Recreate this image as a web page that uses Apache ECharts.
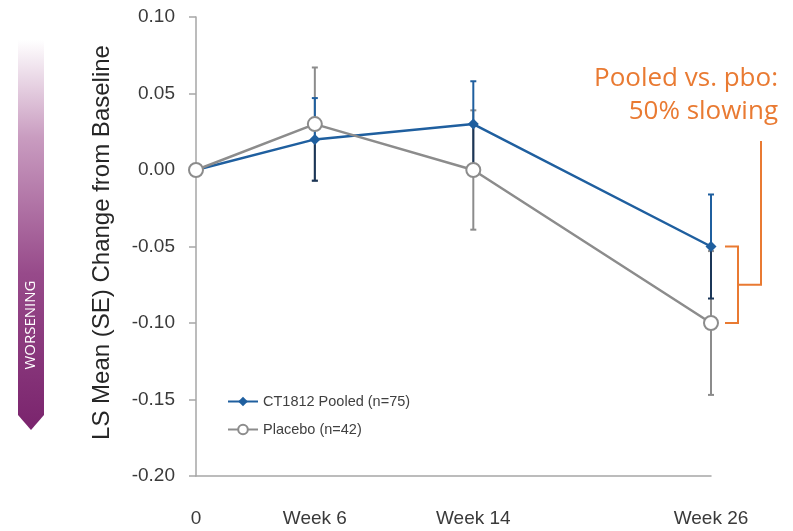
<!DOCTYPE html>
<html>
<head>
<meta charset="utf-8">
<script src="https://cdn.jsdelivr.net/npm/echarts@6/dist/echarts.min.js"></script>
<style>
html,body{margin:0;padding:0;background:#fff;}
#chart{width:793px;height:531px;}
</style>
</head>
<body>
<div id="chart"></div>
<script>
// ---- data ----
const weeks = [0, 6, 14, 26];
const xTickLabels = ['0', 'Week 6', 'Week 14', 'Week 26'];
const pooledName = 'CT1812 Pooled (n=75)';
const pooledMean = [0.00, 0.02, 0.03, -0.05];
const pooledSE = [0, 0.027, 0.028, 0.034];
const placeboName = 'Placebo (n=42)';
const placeboMean = [0.00, 0.03, 0.00, -0.10];
const placeboSE = [0, 0.037, 0.039, 0.047];
const yMin = -0.20, yMax = 0.10, yStep = 0.05;
const yTitle = 'LS Mean (SE) Change from Baseline';
const annotationLines = ['Pooled vs. pbo:', '50% slowing'];
const arrowLabel = 'WORSENING';

const BLUE = '#1f5f9f';
const BLUE_DARK = '#1b3658';
const GRAY = '#8c8c8c';
const ORANGE = '#e97a32';
const FONT = '"Liberation Sans", Arial, sans-serif';

function errData(mean, se) {
  return weeks.map((w, i) => [w, mean[i] - se[i], mean[i] + se[i], mean[i]]).filter((d, i) => se[i] > 0);
}
function errRender(upperColor, lowerColor) {
  return function (params, api) {
    const x = api.value(0);
    const lo = api.coord([x, api.value(1)]);
    const hi = api.coord([x, api.value(2)]);
    const mid = api.coord([x, api.value(3)]);
    const cap = 3;
    const st = (c) => ({ stroke: c, lineWidth: 2 });
    return {
      type: 'group',
      children: [
        { type: 'line', shape: { x1: hi[0], y1: hi[1], x2: mid[0], y2: mid[1] }, style: st(upperColor) },
        { type: 'line', shape: { x1: mid[0], y1: mid[1], x2: lo[0], y2: lo[1] }, style: st(lowerColor) },
        { type: 'line', shape: { x1: hi[0] - cap, y1: hi[1], x2: hi[0] + cap, y2: hi[1] }, style: st(upperColor) },
        { type: 'line', shape: { x1: lo[0] - cap, y1: lo[1], x2: lo[0] + cap, y2: lo[1] }, style: st(lowerColor) }
      ]
    };
  };
}

const chart = echarts.init(document.getElementById('chart'), null, { renderer: 'canvas' });

const option = {
  animation: false,
  backgroundColor: '#fff',
  grid: { left: 196, right: 82, top: 17, bottom: 55, containLabel: false },
  xAxis: {
    type: 'value',
    min: 0,
    max: 26,
    axisLine: { show: true, onZero: false, lineStyle: { color: '#a6a6a6', width: 1.5 } },
    axisTick: { show: false },
    splitLine: { show: false },
    axisLabel: {
      customValues: weeks,
      formatter: (v) => xTickLabels[weeks.indexOf(v)],
      margin: 33,
      fontSize: 19,
      color: '#3a3a3a',
      fontFamily: FONT
    }
  },
  yAxis: {
    type: 'value',
    min: yMin,
    max: yMax,
    interval: yStep,
    axisLine: { show: true, lineStyle: { color: '#a6a6a6', width: 1.5 } },
    axisTick: { show: true, inside: false, length: 7, lineStyle: { color: '#a6a6a6', width: 1.5 } },
    splitLine: { show: false },
    axisLabel: {
      formatter: (v) => v.toFixed(2),
      margin: 21,
      fontSize: 19,
      color: '#3a3a3a',
      fontFamily: FONT
    }
  },
  legend: {
    orient: 'vertical',
    left: 222,
    top: 389,
    itemWidth: 30,
    itemHeight: 12,
    itemGap: 13,
    textStyle: { fontSize: 14.5, color: '#404040', fontFamily: FONT },
    data: [pooledName, placeboName]
  },
  series: [
    {
      name: 'placeboErr',
      type: 'custom',
      renderItem: errRender(GRAY, GRAY),
      data: errData(placeboMean, placeboSE),
      z: 1,
      silent: true
    },
    {
      name: 'pooledErr',
      type: 'custom',
      renderItem: errRender(BLUE, BLUE_DARK),
      data: errData(pooledMean, pooledSE),
      z: 2,
      silent: true
    },
    {
      name: pooledName,
      type: 'line',
      data: weeks.map((w, i) => [w, pooledMean[i]]),
      symbol: 'diamond',
      symbolSize: 11,
      lineStyle: { color: BLUE, width: 2.5 },
      itemStyle: { color: BLUE },
      z: 3
    },
    {
      name: placeboName,
      type: 'line',
      data: weeks.map((w, i) => [w, placeboMean[i]]),
      symbol: 'emptyCircle',
      symbolSize: 14,
      lineStyle: { color: GRAY, width: 2.5 },
      itemStyle: { color: GRAY, borderColor: GRAY, borderWidth: 2.2 },
      z: 4
    }
  ]
};
chart.setOption(option);

// ---- annotations built from axis scales ----
const lastW = weeks[weeks.length - 1];
const pTop = chart.convertToPixel({ gridIndex: 0 }, [lastW, pooledMean[pooledMean.length - 1]]);
const pBot = chart.convertToPixel({ gridIndex: 0 }, [lastW, placeboMean[placeboMean.length - 1]]);
const bx0 = pTop[0] + 14, bx1 = pTop[0] + 27, bx2 = pTop[0] + 50;
const bMid = (pTop[1] + pBot[1]) / 2;
const yAxisPx0 = chart.convertToPixel({ gridIndex: 0 }, [0, yMax]);
const yAxisPx1 = chart.convertToPixel({ gridIndex: 0 }, [0, yMin]);

chart.setOption({
  graphic: [
    {
      type: 'polyline',
      shape: { points: [[bx0, pTop[1]], [bx1, pTop[1]], [bx1, pBot[1]], [bx0, pBot[1]]] },
      style: { stroke: ORANGE, lineWidth: 2, fill: null }
    },
    {
      type: 'polyline',
      shape: { points: [[bx1, bMid], [bx2, bMid], [bx2, 141]] },
      style: { stroke: ORANGE, lineWidth: 2, fill: null }
    },
    {
      type: 'text',
      x: 778,
      y: 62,
      style: {
        text: annotationLines.join('\n'),
        align: 'right',
        verticalAlign: 'top',
        fontSize: 26,
        lineHeight: 33,
        fill: ORANGE,
        fontFamily: '"Open Sans", sans-serif'
      }
    },
    {
      type: 'text',
      x: 102,
      y: (yAxisPx0[1] + yAxisPx1[1]) / 2 - 4,
      rotation: Math.PI / 2,
      style: {
        text: yTitle,
        align: 'center',
        verticalAlign: 'middle',
        fontSize: 24,
        fill: '#262626',
        fontFamily: FONT
      }
    },
    {
      type: 'polygon',
      shape: { points: [[18, 40], [44, 40], [44, 415], [31, 430], [18, 415]] },
      style: {
        fill: new echarts.graphic.LinearGradient(0, 0, 0, 1, [
          { offset: 0, color: '#ffffff' },
          { offset: 0.25, color: '#c99cc0' },
          { offset: 0.6, color: '#974a8a' },
          { offset: 1, color: '#7a246d' }
        ])
      }
    },
    {
      type: 'text',
      x: 31,
      y: 325,
      rotation: Math.PI / 2,
      style: {
        text: arrowLabel,
        align: 'center',
        verticalAlign: 'middle',
        fontSize: 15,
        fill: '#ffffff',
        fontFamily: '"Open Sans", sans-serif'
      }
    }
  ]
});
</script>
</body>
</html>
